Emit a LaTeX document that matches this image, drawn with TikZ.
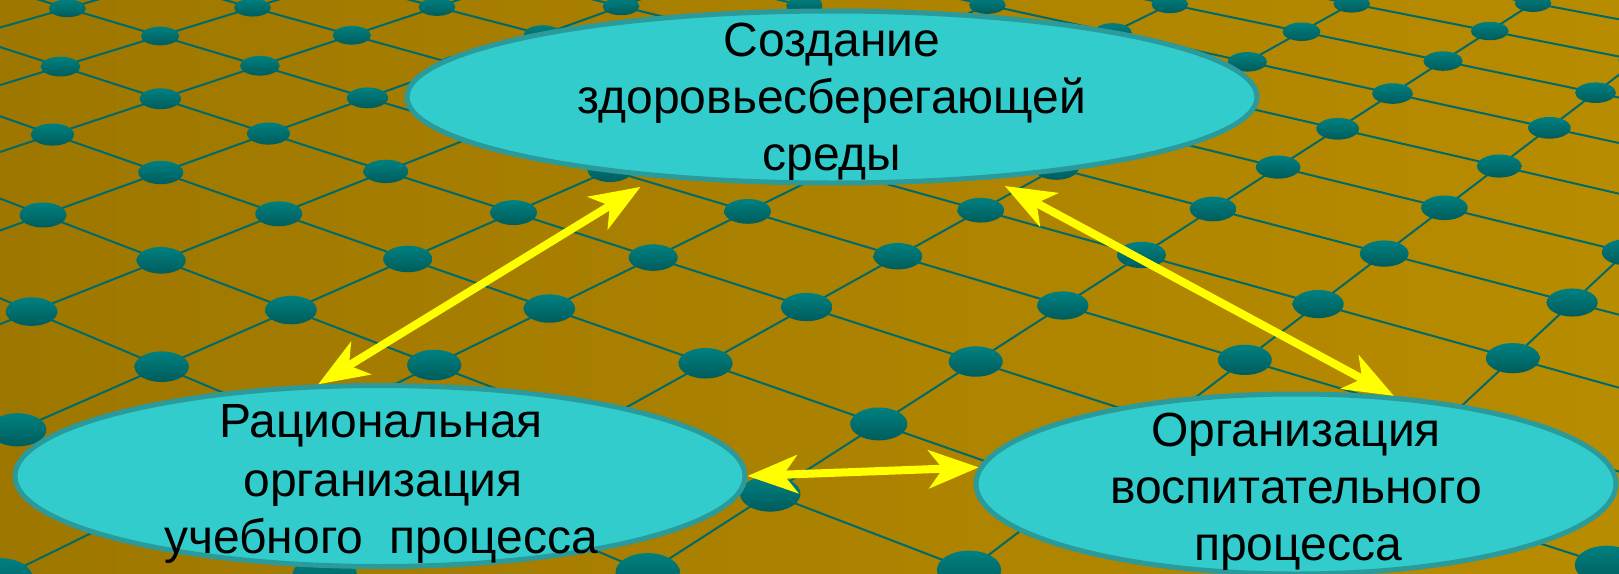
\documentclass[tikz,border=0pt]{standalone}
\usepackage{fontspec}
\setmainfont{Liberation Sans}
\usetikzlibrary{arrows.meta,shapes.geometric}
\definecolor{bgL}{HTML}{9E7700}
\definecolor{bgR}{HTML}{B88C00}
\definecolor{gridC}{HTML}{006A6A}
\definecolor{dotL}{HTML}{008080}
\definecolor{dotD}{HTML}{005C5C}
\definecolor{ellF}{HTML}{33CCCC}
\definecolor{ellB}{HTML}{2A9A9A}
\definecolor{arrY}{HTML}{FFFF00}
% perspective map of the floor grid: (u,v) -> (\gx,\gy), weight \gw
\newcommand\hgPt[2]{%
  \pgfmathsetmacro\gt{((#2)+3)/5}%
  \pgfmathsetmacro\gs{((#1)-2+\gt)/6}%
  \pgfmathsetmacro\gw{1-0.26843*\gs+0.27770*\gt}%
  \pgfmathsetmacro\gx{(665.89*\gs+515.35*\gt+43)/\gw}%
  \pgfmathsetmacro\gy{(201.99*\gs-206.06*\gt+215)/\gw}%
}
\begin{document}
\begin{tikzpicture}[x=1pt,y=-1pt,
  gridline/.style={draw=gridC,line width=2pt},
  dotshade/.style={top color=dotL,bottom color=dotD},
  ell/.style={ellipse,draw=ellB,fill=ellF,line width=5pt,inner sep=0pt},
  lbl/.style={font=\fontsize{48}{57}\selectfont,inner sep=0pt,anchor=base,text=black},
  arr/.style={draw=arrY,line width=8pt,
    arrows={Stealth[length=50pt,width=38pt,inset=14pt]-Stealth[length=50pt,width=38pt,inset=14pt]}}]
\useasboundingbox (0,0) rectangle (1619,573);
\begin{scope}
  \clip (0,0) rectangle (1619,573);
  \shade[left color=bgL,right color=bgR] (0,0) rectangle (1619,573);
  \foreach \v in {-9,...,10}{
    \hgPt{-3}{\v}\let\xa\gx\let\ya\gy
    \hgPt{12}{\v}
    \draw[gridline] (\xa,\ya) -- (\gx,\gy);
  }
  \foreach \u in {-3,...,12}{
    \hgPt{\u}{-9}\let\xa\gx\let\ya\gy
    \hgPt{\u}{10}
    \draw[gridline] (\xa,\ya) -- (\gx,\gy);
  }
  \foreach \u in {-3,...,12}{
    \foreach \v in {-9,...,10}{
      \hgPt{\u}{\v}
      \pgfmathsetmacro\rx{23.5/\gw}
      \pgfmathsetmacro\ry{12.5/pow(\gw,1.4)}
      \shade[dotshade] (\gx,\gy) ellipse [x radius=\rx pt, y radius=\ry pt];
    }
  }
\end{scope}
\node[ell,minimum width=850pt,minimum height=172pt] (nTop) at (832,97) {};
\node[ell,minimum width=730pt,minimum height=181pt] (nLeft) at (380,476) {};
\node[ell,minimum width=640pt,minimum height=180pt] (nRight) at (1296,484) {};
\node[lbl] (tA1) at (832,56) {Создание};
\node[lbl] (tA2) at (832,113) {здоровьесберегающей};
\node[lbl] (tA3) at (832,170) {среды};
\node[lbl] (tB1) at (381,437) {Рациональная};
\node[lbl] (tB2) at (383,496) {организация};
\node[lbl] (tB3) at (381,553) {учебного\ \ процесса};
\node[lbl] (tC1) at (1296,446) {Организация};
\node[lbl] (tC2) at (1296,503) {воспитательного};
\node[lbl] (tC3) at (1298,560) {процесса};
\draw[arr] (nLeft.124) -- ([shift={(-18,9)}]nTop.205);
\draw[arr] ([shift={(12,7)}]nTop.333) -- (nRight.42.5);
\draw[arr] (nLeft.0) -- (nRight.177);
\end{tikzpicture}
\end{document}
